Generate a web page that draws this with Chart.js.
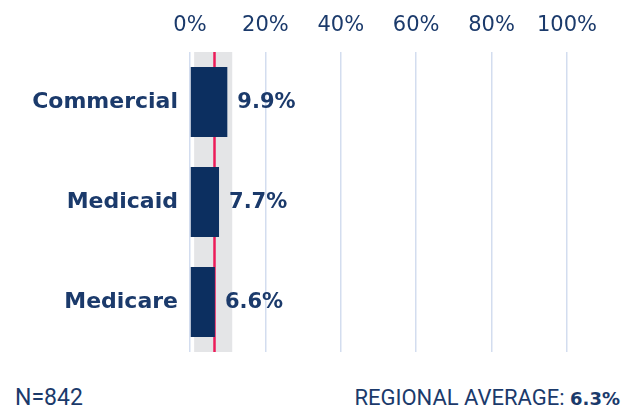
<!DOCTYPE html>
<html>
<head>
<meta charset="utf-8">
<script src="https://cdn.jsdelivr.net/npm/chart.js@4.4.1/dist/chart.umd.min.js"></script>
<style>
  html, body { margin: 0; padding: 0; background: #fff; }
  #wrap { position: relative; width: 636px; height: 410px; }
  #chart { position: absolute; left: 0; top: 0; }
  .foot { position: absolute; top: 384px; font-family: "Liberation Sans Narrow", "Roboto", sans-serif; font-size: 23px; color: #1b3a6b; }
  #n { left: 15px; }
  #avg { right: 16px; font-size: 22px; top: 385px; }
  #avg b { font-family: "DejaVu Sans", sans-serif; font-weight: 700; font-size: 18px; }
</style>
</head>
<body>
<div id="wrap">
  <canvas id="chart" width="636" height="370"></canvas>
  <div class="foot" id="n">N=842</div>
  <div class="foot" id="avg">REGIONAL AVERAGE: <b>6.3%</b></div>
</div>
<script>
const categories = ['Commercial', 'Medicaid', 'Medicare'];
const values = [9.9, 7.7, 6.6];
const xTicks = [0, 20, 40, 60, 80, 100];
const regionalAverage = 6.3;
const regionalRange = [1.1, 11.2];

const navy = '#0c2f60';
const textColor = '#1b3a6b';

// shaded range band and the regional average line, drawn behind the bars
const bandPlugin = {
  id: 'band',
  beforeDatasetsDraw(chart) {
    const { ctx, chartArea, scales: { x } } = chart;
    const x0 = x.getPixelForValue(regionalRange[0]);
    const x1 = x.getPixelForValue(regionalRange[1]);
    ctx.save();
    ctx.fillStyle = '#e4e5e7';
    ctx.fillRect(x0, chartArea.top, x1 - x0, chartArea.bottom - chartArea.top);
    const xa = Math.round(x.getPixelForValue(regionalAverage)) + 0.5;
    ctx.strokeStyle = '#ec1c5a';
    ctx.lineWidth = 2.5;
    ctx.beginPath();
    ctx.moveTo(xa, chartArea.top);
    ctx.lineTo(xa, chartArea.bottom);
    ctx.stroke();
    ctx.restore();
  }
};

// value labels to the right of each bar
const valueLabels = {
  id: 'valueLabels',
  afterDatasetsDraw(chart) {
    const { ctx } = chart;
    const meta = chart.getDatasetMeta(0);
    ctx.save();
    ctx.font = 'bold 21px "DejaVu Sans", sans-serif';
    ctx.fillStyle = textColor;
    ctx.textBaseline = 'middle';
    meta.data.forEach((bar, i) => {
      ctx.fillText(values[i].toFixed(1) + '%', bar.x + 10, bar.y + 1);
    });
    ctx.restore();
  }
};

new Chart(document.getElementById('chart'), {
  type: 'bar',
  data: {
    labels: categories,
    datasets: [{
      data: values,
      backgroundColor: navy,
      borderWidth: 0,
      barPercentage: 0.7,
      categoryPercentage: 1.0
    }]
  },
  options: {
    indexAxis: 'y',
    responsive: false,
    animation: false,
    layout: { padding: { left: 10, right: 69, top: 0, bottom: 18 } },
    plugins: { legend: { display: false }, tooltip: { enabled: false } },
    scales: {
      x: {
        position: 'top',
        min: 0,
        max: 100,
        afterBuildTicks: axis => { axis.ticks = xTicks.map(v => ({ value: v })); },
        afterFit: axis => { axis.height = 52; },
        grid: { color: '#d3ddef', lineWidth: 1.5, drawTicks: false },
        border: { display: false },
        ticks: {
          padding: 14,
          color: textColor,
          font: { family: '"DejaVu Sans", sans-serif', size: 21 },
          callback: v => v + '%'
        }
      },
      y: {
        afterFit: axis => {
          axis.width = 180;
          axis.paddingTop = 0;
          axis.paddingBottom = 0;
        },
        grid: { display: false, drawTicks: false },
        border: { display: false },
        ticks: {
          padding: 12,
          color: textColor,
          font: { family: '"DejaVu Sans", sans-serif', size: 22, weight: 'bold' }
        }
      }
    }
  },
  plugins: [bandPlugin, valueLabels]
});
</script>
</body>
</html>
